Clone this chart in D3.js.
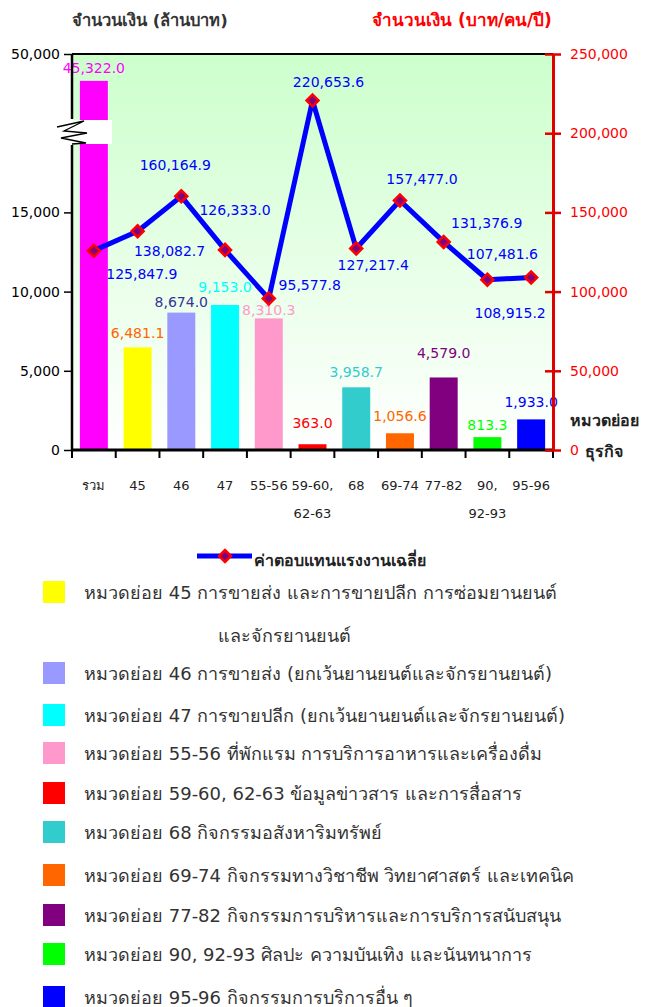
<!DOCTYPE html>
<html>
<head>
<meta charset="utf-8">
<script src="https://cdn.jsdelivr.net/npm/d3@7"></script>
<style>
  body { margin: 0; background: #fff; }
  svg { display: block; font-family: "DejaVu Sans", "Noto Sans", sans-serif; }
</style>
</head>
<body>
<svg id="chart" width="659" height="1007"></svg>
<script>
// ข้อมูล
const categories = [['รวม'], ['45'], ['46'], ['47'], ['55-56'], ['59-60,', '62-63'], ['68'], ['69-74'], ['77-82'], ['90,', '92-93'], ['95-96']];
const amountMillion = [45322.0, 6481.1, 8674.0, 9153.0, 8310.3, 363.0, 3958.7, 1056.6, 4579.0, 813.3, 1933.0];
const avgWage = [125847.9, 138082.7, 160164.9, 126333.0, 95577.8, 220653.6, 127217.4, 157477.0, 131376.9, 107481.6, 108915.2];
const leftTicks = [0, 5000, 10000, 15000, 50000];
const rightTicks = [0, 50000, 100000, 150000, 200000, 250000];
const barColors = ['#ff00ff', '#ffff00', '#9999ff', '#00ffff', '#ff99cc', '#ff0000', '#33cccc', '#ff6600', '#800080', '#00ff00', '#0000ff'];
const barLabelColors = ['#ff00ff', '#ff6600', '#333399', '#00ffff', '#ff99cc', '#ff0000', '#33cccc', '#ff6600', '#800080', '#00ff00', '#0000ff'];
const legendTexts = [
  ['หมวดย่อย 45 การขายส่ง และการขายปลีก การซ่อมยานยนต์', 'และจักรยานยนต์'],
  ['หมวดย่อย 46 การขายส่ง (ยกเว้นยานยนต์และจักรยานยนต์)'],
  ['หมวดย่อย 47 การขายปลีก (ยกเว้นยานยนต์และจักรยานยนต์)'],
  ['หมวดย่อย 55-56 ที่พักแรม การบริการอาหารและเครื่องดื่ม'],
  ['หมวดย่อย 59-60, 62-63 ข้อมูลข่าวสาร และการสื่อสาร'],
  ['หมวดย่อย 68 กิจกรรมอสังหาริมทรัพย์'],
  ['หมวดย่อย 69-74 กิจกรรมทางวิชาชีพ วิทยาศาสตร์ และเทคนิค'],
  ['หมวดย่อย 77-82 กิจกรรมการบริหารและการบริการสนับสนุน'],
  ['หมวดย่อย 90, 92-93 ศิลปะ ความบันเทิง และนันทนาการ'],
  ['หมวดย่อย 95-96 กิจกรรมการบริการอื่น ๆ']
];
const lineName = 'ค่าตอบแทนแรงงานเฉลี่ย';

// ตำแหน่งป้ายค่า (ปรับด้วยมือ)
const barLabelGap = [8, 9, 6, 13, 3, 16, 10, 12, 19, 7, 12];
const lineLabelOffset = [[48, 28], [32, 25], [-6, -26], [10, -35], [41, -9], [16, -13], [17, 22], [22, -17], [43, -14], [15, -21], [-21, 41]];
const legendY = [592, 673, 715, 753, 793, 832, 875, 915, 954, 997];

const svg = d3.select('#chart');
const pLeft = 72, pRight = 553, pTop = 54, pBottom = 450;
const breakLo = 145, breakHi = 120; // ช่องว่างของแกนที่ถูกตัด

const x = d3.scaleBand().domain(d3.range(categories.length)).range([pLeft, pRight]).paddingInner(0.36).paddingOuter(0.18);
// แกนซ้ายแบบตัดช่วง: 0-~19,000 เป็นเส้นตรง แล้วข้ามไปช่วงบน 38,500-50,000
const lowK = (pBottom - pTop) / 25000;
const yL = d3.scaleLinear()
  .domain([0, (pBottom - breakLo) / lowK, 38500, 50000])
  .range([pBottom, breakLo, breakHi, pTop]);
const yR = d3.scaleLinear().domain([0, 250000]).range([pBottom, pTop]);
const fmt = d3.format(',.1f');

// พื้นหลังไล่สี
const grad = svg.append('defs').append('linearGradient').attr('id', 'bg').attr('x1', 0).attr('y1', 0).attr('x2', 0).attr('y2', 1);
grad.append('stop').attr('offset', '0%').attr('stop-color', '#ccffcc');
grad.append('stop').attr('offset', '100%').attr('stop-color', '#ffffff');
svg.append('rect').attr('x', pLeft).attr('y', pTop).attr('width', pRight - pLeft).attr('height', pBottom - pTop).attr('fill', 'url(#bg)');

// แท่ง
svg.append('g').selectAll('rect').data(amountMillion).join('rect')
  .attr('x', (d, i) => x(i)).attr('width', x.bandwidth())
  .attr('y', d => yL(d)).attr('height', d => pBottom - yL(d))
  .attr('fill', (d, i) => barColors[i]);

svg.append('g').selectAll('text').data(amountMillion).join('text')
  .attr('x', (d, i) => x(i) + x.bandwidth() / 2)
  .attr('y', (d, i) => yL(d) - barLabelGap[i])
  .attr('text-anchor', 'middle').attr('font-size', 14)
  .attr('fill', (d, i) => barLabelColors[i])
  .text(d => fmt(d));

// เส้นแบ่งช่วงแกน
svg.append('rect').attr('x', 66).attr('y', breakHi).attr('width', 46).attr('height', breakLo - breakHi - 1).attr('fill', '#fff');
svg.append('path')
  .attr('d', 'M57,127 L84,121 L64,131 L87,133 L61,138 L86,143 L72,144')
  .attr('fill', 'none').attr('stroke', '#000').attr('stroke-width', 1.3);

// แกนซ้าย
svg.append('line').attr('x1', pLeft).attr('x2', pRight).attr('y1', pTop).attr('y2', pTop).attr('stroke', '#000').attr('stroke-width', 2);
svg.append('line').attr('x1', pLeft).attr('x2', pLeft).attr('y1', pTop).attr('y2', breakHi - 1).attr('stroke', '#000').attr('stroke-width', 2.5);
svg.append('line').attr('x1', pLeft).attr('x2', pLeft).attr('y1', breakLo).attr('y2', pBottom).attr('stroke', '#000').attr('stroke-width', 2.5);
const gL = svg.append('g').attr('transform', `translate(${pLeft},0)`)
  .call(d3.axisLeft(yL).tickValues(leftTicks).tickFormat(d3.format(',')).tickSize(8).tickPadding(4));
gL.select('.domain').remove();
gL.selectAll('line').attr('stroke', '#000').attr('stroke-width', 1.5);
gL.selectAll('text').attr('font-size', 14).attr('fill', '#000').attr('font-family', 'DejaVu Sans, sans-serif');

// แกนล่าง
const boundaries = d3.range(categories.length + 1).map(i => pLeft + i * x.step());
svg.append('line').attr('x1', pLeft - 1).attr('x2', pRight).attr('y1', pBottom).attr('y2', pBottom).attr('stroke', '#000').attr('stroke-width', 3);
svg.append('g').selectAll('line').data(boundaries).join('line')
  .attr('x1', d => d).attr('x2', d => d).attr('y1', pBottom).attr('y2', pBottom + 8)
  .attr('stroke', '#000').attr('stroke-width', 2);
svg.append('g').selectAll('text').data(categories).join('text')
  .attr('x', (d, i) => x(i) + x.bandwidth() / 2)
  .attr('y', 490).attr('text-anchor', 'middle').attr('font-size', 13).attr('fill', '#222')
  .selectAll('tspan').data(d => d).join('tspan')
  .attr('x', function () { return this.parentNode.getAttribute('x'); })
  .attr('dy', (d, i) => i === 0 ? 0 : 28)
  .text(d => d);

// แกนขวา
const gR = svg.append('g').attr('transform', `translate(${pRight},0)`)
  .call(d3.axisRight(yR).tickValues(rightTicks).tickFormat(d3.format(',')).tickSize(0).tickPadding(17));
gR.select('.domain').attr('stroke', '#e00000').attr('stroke-width', 3);
gR.selectAll('.tick').append('line').attr('x1', -8).attr('x2', 8).attr('stroke', '#e00000').attr('stroke-width', 2.5);
gR.selectAll('text').attr('font-size', 14).attr('fill', '#ff0000').attr('font-family', 'DejaVu Sans, sans-serif');

// ชื่อแกน
svg.append('text').attr('x', 72).attr('y', 26).attr('font-size', 16.5).attr('font-weight', 'bold').attr('fill', '#333').text('จำนวนเงิน (ล้านบาท)');
svg.append('text').attr('x', 372).attr('y', 26).attr('font-size', 17).attr('font-weight', 'bold').attr('fill', '#ff0000').text('จำนวนเงิน (บาท/คน/ปี)');
svg.append('text').attr('x', 570).attr('y', 426).attr('font-size', 16).attr('font-weight', 'bold').attr('fill', '#222').text('หมวดย่อย');
svg.append('text').attr('x', 585).attr('y', 457).attr('font-size', 16).attr('font-weight', 'bold').attr('fill', '#222').text('ธุรกิจ');

// เส้นค่าตอบแทน
const cx = i => x(i) + x.bandwidth() / 2;
svg.append('path').datum(avgWage)
  .attr('d', d3.line().x((d, i) => cx(i)).y(d => yR(d)))
  .attr('fill', 'none').attr('stroke', '#0000ff').attr('stroke-width', 5).attr('stroke-linejoin', 'round');
const diamond = d3.symbol().type(d3.symbolSquare).size(72);
svg.append('g').selectAll('path').data(avgWage).join('path')
  .attr('d', diamond)
  .attr('transform', (d, i) => `translate(${cx(i)},${yR(d)}) rotate(45)`)
  .attr('fill', '#800080').attr('stroke', '#ff0000').attr('stroke-width', 2.5);
svg.append('g').selectAll('text').data(avgWage).join('text')
  .attr('x', (d, i) => cx(i) + lineLabelOffset[i][0])
  .attr('y', (d, i) => yR(d) + lineLabelOffset[i][1])
  .attr('text-anchor', 'middle').attr('font-size', 14).attr('fill', '#0000ff')
  .text(d => fmt(d));

// คำอธิบาย
const lg = svg.append('g');
lg.append('line').attr('x1', 197).attr('x2', 252).attr('y1', 556).attr('y2', 556).attr('stroke', '#0000ff').attr('stroke-width', 5);
lg.append('path').attr('d', diamond).attr('transform', 'translate(225,556) rotate(45)')
  .attr('fill', '#800080').attr('stroke', '#ff0000').attr('stroke-width', 2.5);
lg.append('text').attr('x', 254).attr('y', 566).attr('font-size', 16).attr('font-weight', 'bold').attr('fill', '#222').text(lineName);

const items = lg.selectAll('g.item').data(legendTexts).join('g').attr('class', 'item');
items.append('rect').attr('x', 43).attr('width', 22).attr('height', 22)
  .attr('y', (d, i) => legendY[i] - 11).attr('fill', (d, i) => barColors[i + 1]);
items.append('text').attr('font-size', 18).attr('fill', '#333')
  .selectAll('tspan').data((d, i) => d.map((t, j) => ({t, j, i}))).join('tspan')
  .attr('x', d => d.j === 0 ? 84 : 218)
  .attr('y', d => legendY[d.i] + 7 + d.j * 43)
  .text(d => d.t);
</script>
</body>
</html>
